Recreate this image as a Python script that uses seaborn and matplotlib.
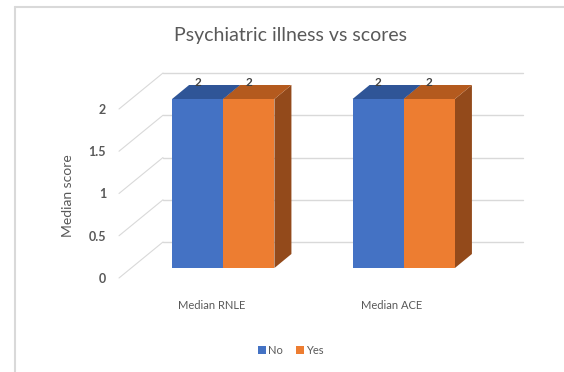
"""Psychiatric illness vs scores - 3D-look grouped bar chart."""
import matplotlib
matplotlib.use("Agg")
import matplotlib.pyplot as plt
from matplotlib.patches import Patch, Polygon
from matplotlib.lines import Line2D
from matplotlib.transforms import ScaledTranslation
import pandas as pd
import seaborn as sns

# data
metrics = ["Median RNLE", "Median ACE"]
groups = ["No", "Yes"]
no_vals = [2, 2]
yes_vals = [2, 2]
yticks = [0, 0.5, 1, 1.5, 2]
ytick_labels = ["0", "0.5", "1", "1.5", "2"]

colors = {"No": "#4472C4", "Yes": "#ED7D31"}
top_colors = {"No": "#2F5597", "Yes": "#B45A1E"}
side_colors = {"No": "#2F5597", "Yes": "#934A1B"}
TXT = "#595959"

df = pd.DataFrame({
    "metric": metrics * 2,
    "group": ["No"] * len(metrics) + ["Yes"] * len(metrics),
    "value": no_vals + yes_vals,
})

sns.set_style("white")
plt.rcParams["font.family"] = ["Lato", "DejaVu Sans"]

W, H = 564, 372
fig = plt.figure(figsize=(W / 100, H / 100), dpi=100)
# axes box in pixels (front face plane of the bars)
L, R, B, T = 133, 494, 104, 273
ax = fig.add_axes([L / W, B / H, (R - L) / W, (T - B) / H])

sns.barplot(data=df, x="metric", y="value", hue="group", palette=colors,
            width=0.567, gap=0, saturation=1, legend=False, ax=ax,
            linewidth=0, zorder=3)
ax.set_xlim(-0.5, 1.5)
ax.set_ylim(0, 2)

PX_X = 2.0 / (R - L)
PX_Y = 2.0 / (T - B)
def xd(px):
    return -0.5 + (px - L) * PX_X

# 3D depth (bar back offset) and back-wall offset, in pixels
DX, DY = 17, 14
WX, WY = 32, 26
FX, FY = -12, -10  # front (label) plane

# back wall gridlines + floor diagonals
for v in yticks:
    yb = v + WY * PX_Y
    ax.plot([xd(163), xd(523)], [yb, yb], color="#D9D9D9", lw=1.0,
            clip_on=False, zorder=1)
    ax.plot([xd(119), xd(163)], [v + FY * PX_Y, yb], color="#D9D9D9",
            lw=0.8, clip_on=False, zorder=1)

# depth faces for each bar
hue_of = ["No"] * len(metrics) + ["Yes"] * len(metrics)
for bar, g in zip(ax.patches, hue_of):
    x0, w, h = bar.get_x(), bar.get_width(), bar.get_height()
    x1 = x0 + w
    dx, dy = DX * PX_X, DY * PX_Y
    top = Polygon([(x0, h), (x1, h), (x1 + dx, h + dy), (x0 + dx, h + dy)],
                  closed=True, facecolor=top_colors[g], edgecolor="none",
                  zorder=2, clip_on=False)
    side = Polygon([(x1, 0), (x1 + dx, dy), (x1 + dx, h + dy), (x1, h)],
                   closed=True, facecolor=side_colors[g], edgecolor="none",
                   zorder=2, clip_on=False)
    ax.add_patch(side)
    ax.add_patch(top)
    ax.text(x0 + w / 2, h + 16 * PX_Y, f"{h:g}", ha="center", va="center",
            fontsize=8.5, fontweight="bold", color="#404040", zorder=4,
            clip_on=False)

sns.despine(ax=ax, left=True, bottom=True)
ax.set_yticks(yticks)
ax.set_yticklabels(ytick_labels)
ax.tick_params(axis="y", length=0, pad=27 * 0.72, labelsize=9, labelcolor=TXT)
ax.tick_params(axis="x", length=0, pad=32 * 0.72, labelsize=8, labelcolor=TXT)
for lab in ax.get_yticklabels():
    lab.set_transform(lab.get_transform() + ScaledTranslation(0, FY / 100, fig.dpi_scale_trans))
    lab.set_fontweight("bold")
for lab in ax.get_xticklabels():
    lab.set_transform(lab.get_transform() + ScaledTranslation(FX / 100, 0, fig.dpi_scale_trans))
ax.set_xlabel("")
ax.set_ylabel("Median score", fontsize=10, color=TXT)
ax.yaxis.set_label_coords((68 - L) / (R - L), (372 - 196 - B) / (T - B))
ax.yaxis.label.set_va("center")

fig.suptitle("Psychiatric illness vs scores", x=291 / W, y=1 - 36 / H,
             va="center", fontsize=14, color=TXT)

handles = [Patch(facecolor=colors[g], edgecolor="none", label=g) for g in groups]
fig.legend(handles=handles, loc="center", bbox_to_anchor=(291 / W, 1 - 350 / H),
           ncol=2, frameon=False, fontsize=8, handlelength=0.7, handleheight=0.7,
           handletextpad=0.2, columnspacing=1.2, labelcolor=TXT)

# chart area border (left and top visible)
fig.add_artist(Line2D([15 / W, 15 / W], [0, 1 - 7 / H], color="#D9D9D9", lw=1.5))
fig.add_artist(Line2D([15 / W, 1], [1 - 7 / H, 1 - 7 / H], color="#D9D9D9", lw=1.5))

fig.savefig("out.png", dpi=100, facecolor="white")
